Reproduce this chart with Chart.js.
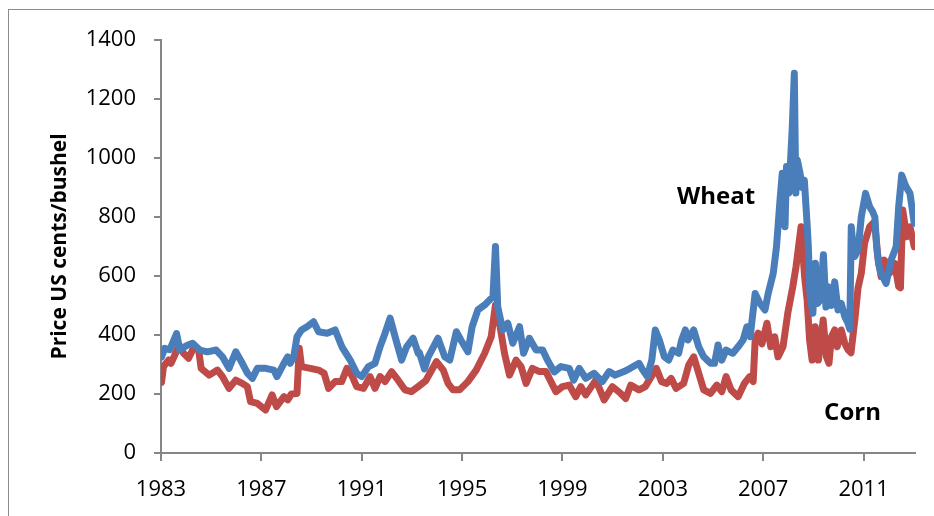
<!DOCTYPE html>
<html>
<head>
<meta charset="utf-8">
<script src="https://cdn.jsdelivr.net/npm/chart.js@4/dist/chart.umd.min.js"></script>
<style>
  html, body { margin: 0; padding: 0; background: #ffffff; }
  #wrap { position: relative; width: 934px; height: 516px; overflow: hidden; }
  #frame { position: absolute; left: 8px; top: 9px; width: 1000px; height: 600px;
           border-left: 1px solid #8c8c8c; border-top: 1px solid #8c8c8c; pointer-events: none; }
  canvas { position: absolute; left: 0; top: 0; }
</style>
</head>
<body>
<div id="wrap">
  <canvas id="c" width="934" height="516"></canvas>
  <div id="frame"></div>
</div>
<script>
// ---- data ----
const wheatYears = [1983.02,1983.15,1983.35,1983.62,1983.75,1984.05,1984.26,1984.55,1984.85,1985.2,1985.45,1985.71,1985.98,1986.24,1986.45,1986.64,1986.84,1987.17,1987.5,1987.62,1987.9,1988.05,1988.15,1988.29,1988.42,1988.6,1988.82,1989.08,1989.28,1989.62,1989.94,1990.21,1990.54,1990.8,1991.0,1991.27,1991.53,1991.73,1991.93,1992.13,1992.33,1992.59,1992.79,1993.05,1993.25,1993.3,1993.5,1993.65,1994.04,1994.31,1994.51,1994.77,1994.95,1995.23,1995.4,1995.63,1995.9,1996.1,1996.23,1996.33,1996.42,1996.62,1996.82,1997.02,1997.29,1997.45,1997.68,1997.95,1998.21,1998.4,1998.67,1998.94,1999.27,1999.45,1999.67,1999.93,2000.26,2000.59,2000.86,2001.1,2001.45,2001.7,2002.05,2002.2,2002.38,2002.56,2002.7,2002.86,2003.06,2003.23,2003.4,2003.63,2003.75,2003.9,2004.0,2004.23,2004.43,2004.63,2004.9,2005.06,2005.2,2005.35,2005.52,2005.79,2006.0,2006.2,2006.35,2006.48,2006.68,2006.87,2007.07,2007.2,2007.4,2007.53,2007.67,2007.76,2007.87,2007.93,2008.02,2008.07,2008.16,2008.24,2008.3,2008.36,2008.47,2008.55,2008.64,2008.74,2008.8,2008.86,2008.98,2009.08,2009.17,2009.28,2009.4,2009.5,2009.6,2009.72,2009.85,2009.98,2010.11,2010.25,2010.38,2010.45,2010.51,2010.58,2010.65,2010.78,2010.91,2011.08,2011.24,2011.35,2011.45,2011.52,2011.6,2011.7,2011.9,2012.1,2012.3,2012.4,2012.52,2012.69,2012.85,2013.02];
const wheatPrices = [325,355,350,405,350,365,372,349,343,349,326,287,343,304,270,253,287,287,281,259,304,326,304,326,394,417,428,445,411,406,417,360,315,270,259,293,304,360,406,457,394,315,360,389,338,340,285,326,389,326,315,411,383,343,428,485,502,519,530,700,496,417,440,372,428,338,389,349,349,315,275,293,287,247,287,253,270,242,276,264,276,287,304,281,259,315,417,383,326,315,349,338,383,417,383,417,360,326,304,304,366,315,349,338,360,383,428,394,541,507,485,541,609,699,858,948,767,971,881,959,1106,1287,881,993,948,900,925,790,699,541,474,643,507,519,672,495,564,500,580,485,507,462,440,420,767,700,666,688,801,880,835,820,800,700,640,609,575,654,699,835,942,903,880,779];
const cornYears = [1983.02,1983.1,1983.3,1983.4,1983.73,1983.9,1984.1,1984.32,1984.5,1984.6,1984.92,1985.25,1985.45,1985.71,1985.98,1986.24,1986.44,1986.57,1986.84,1987.17,1987.43,1987.6,1987.9,1988.05,1988.2,1988.42,1988.51,1988.6,1988.95,1989.28,1989.5,1989.68,1989.94,1990.2,1990.41,1990.6,1990.8,1991.07,1991.33,1991.53,1991.73,1991.93,1992.19,1992.45,1992.72,1992.98,1993.25,1993.55,1993.98,1994.25,1994.44,1994.64,1994.9,1995.23,1995.56,1995.9,1996.16,1996.33,1996.49,1996.69,1996.89,1997.15,1997.35,1997.55,1997.8,1998.08,1998.34,1998.54,1998.74,1999.0,1999.27,1999.53,1999.73,1999.93,2000.33,2000.66,2000.99,2001.32,2001.52,2001.72,2002.05,2002.3,2002.74,2002.95,2003.15,2003.33,2003.53,2003.83,2004.03,2004.23,2004.43,2004.63,2004.9,2005.15,2005.35,2005.52,2005.72,2006.0,2006.25,2006.46,2006.6,2006.68,2006.8,2006.95,2007.15,2007.3,2007.46,2007.59,2007.79,2007.98,2008.18,2008.31,2008.51,2008.65,2008.75,2008.85,2008.95,2009.07,2009.2,2009.39,2009.52,2009.62,2009.72,2009.85,2009.95,2010.11,2010.25,2010.38,2010.5,2010.65,2010.78,2010.91,2011.04,2011.24,2011.44,2011.57,2011.7,2011.83,2012.03,2012.24,2012.4,2012.47,2012.56,2012.72,2012.85,2013.02];
const cornPrices = [240,293,315,304,366,338,321,360,349,287,264,281,259,219,247,236,225,174,168,146,197,157,191,180,200,202,355,293,287,281,270,219,242,242,287,264,225,219,259,219,259,242,276,247,214,208,225,245,310,281,236,214,214,242,281,338,394,502,440,338,264,315,293,236,287,276,276,242,208,225,230,191,225,197,247,180,225,202,185,230,214,225,287,242,236,253,219,236,298,326,270,214,202,230,208,259,214,191,236,259,242,383,406,370,440,360,394,326,360,474,564,632,767,598,519,383,315,428,315,451,326,304,394,417,360,417,372,350,340,450,560,609,711,767,784,666,598,654,609,643,564,560,824,733,767,699];
const tickYears = [1983,1987,1991,1995,1999,2003,2007,2011];
const seriesNames = ['Wheat','Corn'];
const labelSpots = [ {text:'Wheat', year:2005.12, value:868}, {text:'Corn', year:2010.56, value:136} ];

const toPoints = (xs, ys) => xs.map((x, i) => ({x: x, y: ys[i]}));

const seriesLabels = {
  id: 'seriesLabels',
  afterDatasetsDraw(chart) {
    const {ctx, scales} = chart;
    ctx.save();
    ctx.font = 'bold 24px "Open Sans"';
    ctx.fillStyle = '#000000';
    ctx.textAlign = 'center';
    ctx.textBaseline = 'middle';
    labelSpots.forEach(l => {
      ctx.fillText(l.text, scales.x.getPixelForValue(l.year), scales.y.getPixelForValue(l.value));
    });
    ctx.restore();
  }
};

new Chart(document.getElementById('c'), {
  type: 'line',
  data: {
    datasets: [
      { label: seriesNames[0], data: toPoints(wheatYears, wheatPrices), borderColor: '#4A7EBB', backgroundColor: '#4A7EBB', borderWidth: 7, pointRadius: 0, tension: 0, borderJoinStyle: 'round', borderCapStyle: 'round' },
      { label: seriesNames[1], data: toPoints(cornYears, cornPrices), borderColor: '#BE4B48', backgroundColor: '#BE4B48', borderWidth: 7, pointRadius: 0, tension: 0, borderJoinStyle: 'round', borderCapStyle: 'round' }
    ]
  },
  options: {
    responsive: false,
    animation: false,
    devicePixelRatio: 1,
    layout: { padding: { left: 0, top: 40, right: 19, bottom: 0 } },
    plugins: { legend: { display: false }, tooltip: { enabled: false } },
    scales: {
      x: {
        type: 'linear',
        min: 1983, max: 2013.05,
        afterBuildTicks: s => { s.ticks = tickYears.map(v => ({ value: v })); },
        afterFit: s => { s.height = 63; },
        grid: { display: true, drawOnChartArea: false, drawTicks: true, tickLength: 8, color: '#868686', lineWidth: 2 },
        border: { display: true, color: '#868686', width: 2 },
        ticks: { color: '#000000', font: { family: 'Open Sans', size: 22 }, padding: 16, maxRotation: 0, autoSkip: false, callback: v => String(v) }
      },
      y: {
        min: 0, max: 1400,
        afterFit: s => { s.width = 161; },
        grid: { display: true, drawOnChartArea: false, drawTicks: true, tickLength: 7, color: '#868686', lineWidth: 2 },
        border: { display: true, color: '#868686', width: 2 },
        ticks: { stepSize: 200, color: '#000000', font: { family: 'Open Sans', size: 22 }, padding: 18, callback: v => String(v) },
        title: { display: true, text: 'Price US cents/bushel', color: '#000000', font: { family: 'Open Sans', size: 21, weight: 'bold' }, padding: { top: 47, bottom: 0 } }
      }
    }
  },
  plugins: [seriesLabels]
});
</script>
</body>
</html>
